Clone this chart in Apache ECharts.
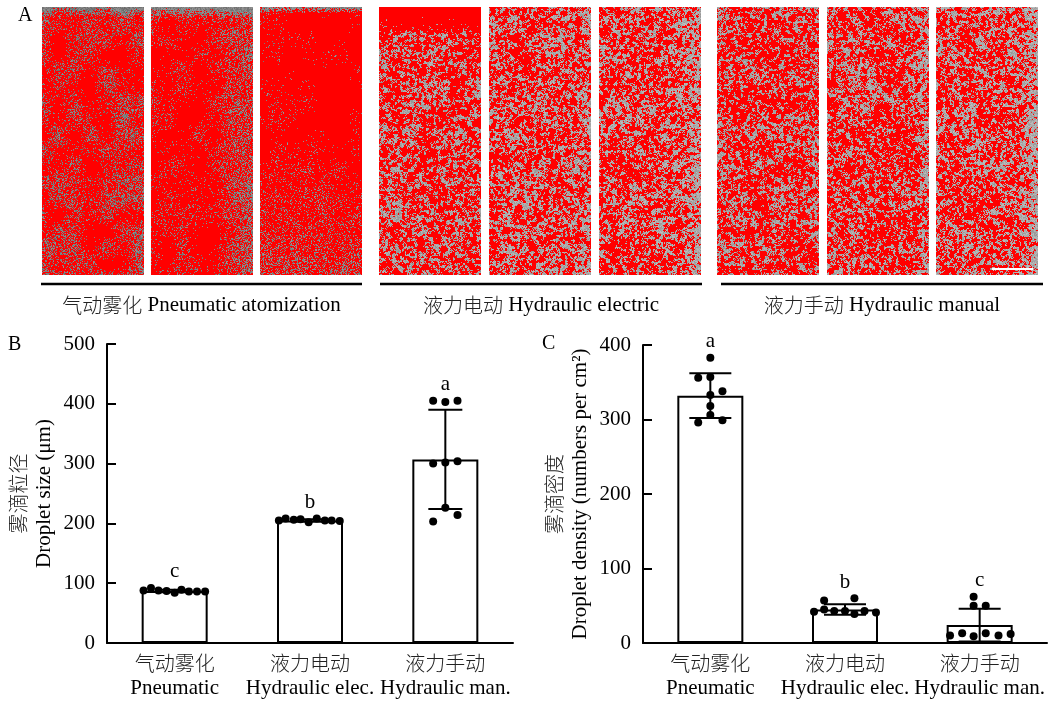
<!DOCTYPE html>
<html>
<head>
    <meta charset="utf-8">
    <title>Droplet size and density</title>
    <script src="https://cdn.jsdelivr.net/npm/echarts@6/dist/echarts.min.js"></script>
    <style>html, body { margin: 0; padding: 0; background: #fff; }</style>
</head>
<body>
    <div id="main" style="width: 1052px;height:704px;"></div>
    <script type="text/javascript">
        var categories = ['气动雾化', '液力电动', '液力手动'];
        var categoriesEn = ['Pneumatic', 'Hydraulic elec.', 'Hydraulic man.'];
        var groupCn = ['气动雾化', '液力电动', '液力手动'];
        var groupEn = ['Pneumatic atomization', 'Hydraulic electric', 'Hydraulic manual'];

        // B - droplet size (um)
        var sizeMean = [87, 205, 307];
        var sizeSd = [2, 2, 83];
        var sizeLetters = ['c', 'b', 'a'];
        var sizePoints = [
            [88, 92, 88, 87, 84, 89, 86, 86, 86],
            [205, 208, 206, 207, 202, 208, 205, 205, 204],
            [405, 403, 405, 300, 302, 304, 226, 203, 214]
        ];
        var sizeJitter = [
            [-0.23, -0.175, -0.12, -0.06, 0, 0.05, 0.105, 0.165, 0.225],
            [-0.23, -0.18, -0.12, -0.07, -0.01, 0.05, 0.11, 0.16, 0.22],
            [-0.09, 0, 0.09, -0.09, 0, 0.09, 0, -0.09, 0.09]
        ];

        // C - droplet density (numbers per cm2)
        var densMean = [332, 45, 24];
        var densSd = [30, 7, 22];
        var densLetters = ['a', 'b', 'c'];
        var densPoints = [
            [383, 356, 357, 338, 333, 318, 306, 296, 299],
            [42, 45, 43, 43, 39, 43, 41, 57, 60],
            [10, 13, 9, 13, 10, 12, 62, 50, 50]
        ];
        var densJitter = [
            [0, -0.09, 0, 0.09, 0, 0, 0, -0.09, 0.09],
            [-0.23, -0.155, -0.08, 0, 0.07, 0.145, 0.23, -0.155, 0.07],
            [-0.22, -0.13, -0.045, 0.045, 0.14, 0.23, -0.045, -0.045, 0.045]
        ];

        var SERIF = '"Liberation Serif", "Times New Roman", serif';
        var CJK = '"Noto Sans CJK SC", sans-serif';

        // ---- panel A: spray card textures (decoration only) ----
        function hash(x, y, s) {
            var h = Math.sin(x * 127.1 + y * 311.7 + s * 74.7) * 43758.5453;
            return h - Math.floor(h);
        }
        function vnoise(x, y, s) {
            var ix = Math.floor(x), iy = Math.floor(y), fx = x - ix, fy = y - iy;
            fx = fx * fx * (3 - 2 * fx); fy = fy * fy * (3 - 2 * fy);
            var a = hash(ix, iy, s), b = hash(ix + 1, iy, s), c = hash(ix, iy + 1, s), d = hash(ix + 1, iy + 1, s);
            return a + (b - a) * fx + (c - a) * fy + (a - b - c + d) * fx * fy;
        }
        function makeTile(w, h, t) {
            var cv = document.createElement('canvas');
            cv.width = w; cv.height = h;
            var ctx = cv.getContext('2d');
            var img = ctx.createImageData(w, h);
            var d = img.data;
            for (var y = 0; y < h; y++) {
                for (var x = 0; x < w; x++) {
                    var big = vnoise(x / 16, y / 16, t.seed + 7);
                    var red;
                    if (t.kind === 'fine') {
                        var p = t.base - t.patch * (big - 0.5) * 2;
                        if (y < t.top) p -= (1 - y / t.top) * 0.85;
                        p -= t.right * Math.max(0, x / w - 0.6) / 0.4;
                        p -= t.bottom * Math.max(0, y / h - 0.5) * 2;
                        red = hash(x, y, t.seed) < p;
                    } else {
                        var n = 0.65 * vnoise(x / 2.4, y / 2.4, t.seed) + 0.35 * hash(x, y, t.seed + 3);
                        var th = t.base + 0.12 * (big - 0.5);
                        if (y < t.top) th += (1 - y / t.top) * 0.6;
                        th -= t.right * Math.max(0, x / w - 0.8) / 0.2;
                        red = n < th;
                    }
                    var k = (y * w + x) * 4;
                    if (red) {
                        d[k] = 255; d[k + 1] = 0; d[k + 2] = 0;
                    } else {
                        var g = Math.round(t.gray + (hash(x, y, t.seed + 11) - 0.5) * 40);
                        d[k] = g; d[k + 1] = g; d[k + 2] = g;
                    }
                    d[k + 3] = 255;
                }
            }
            ctx.putImageData(img, 0, 0);
            return cv;
        }

        var tileX = [42, 151, 260, 379, 489, 599, 717, 827, 936];
        var tileSpec = [
            {kind: 'fine', seed: 1, base: 0.8, patch: 0.3, top: 10, right: 0.15, bottom: 0, gray: 125},
            {kind: 'fine', seed: 2, base: 0.88, patch: 0.15, top: 12, right: 0.4, bottom: 0, gray: 130},
            {kind: 'fine', seed: 3, base: 0.98, patch: 0.1, top: 6, right: 0, bottom: 0.35, gray: 135},
            {kind: 'blob', seed: 4, base: 0.55, top: 28, right: 0, gray: 165},
            {kind: 'blob', seed: 5, base: 0.54, top: 0, right: 0.1, gray: 168},
            {kind: 'blob', seed: 6, base: 0.54, top: 0, right: 0.15, gray: 170},
            {kind: 'blob', seed: 7, base: 0.57, top: 0, right: 0.05, gray: 165},
            {kind: 'blob', seed: 8, base: 0.57, top: 0, right: 0.12, gray: 168},
            {kind: 'blob', seed: 9, base: 0.54, top: 0, right: 0.2, gray: 170}
        ];

        var graphics = [];
        for (var t = 0; t < tileX.length; t++) {
            graphics.push({
                type: 'image', x: tileX[t], y: 7,
                style: {image: makeTile(102, 268, tileSpec[t]), width: 102, height: 268}
            });
        }
        // scale bar on last card
        graphics.push({type: 'line', shape: {x1: 992, y1: 269, x2: 1033, y2: 269}, style: {stroke: '#fff', lineWidth: 2}});

        var groupLine = [[41, 362], [380, 702], [721, 1043]];
        for (var gI = 0; gI < 3; gI++) {
            graphics.push({
                type: 'line',
                shape: {x1: groupLine[gI][0], y1: 284, x2: groupLine[gI][1], y2: 284},
                style: {stroke: '#000', lineWidth: 2.5}
            });
            graphics.push({
                type: 'text',
                x: (groupLine[gI][0] + groupLine[gI][1]) / 2, y: 305,
                style: {
                    text: '{cn|' + groupCn[gI] + '} ' + groupEn[gI],
                    font: '21px ' + SERIF, fill: '#000', align: 'center', verticalAlign: 'middle',
                    rich: {cn: {fontFamily: CJK, fontSize: 20, fill: '#222', fontWeight: 300}}
                }
            });
        }
        graphics.push({type: 'text', x: 18, y: 16, style: {text: 'A', font: '20px ' + SERIF, fill: '#000', verticalAlign: 'middle'}});
        graphics.push({type: 'text', x: 8, y: 345, style: {text: 'B', font: '20px ' + SERIF, fill: '#000', verticalAlign: 'middle'}});
        graphics.push({type: 'text', x: 542, y: 344, style: {text: 'C', font: '20px ' + SERIF, fill: '#000', verticalAlign: 'middle'}});

        // ---- panels B and C ----
        function scatterData(points, jitter) {
            var out = [];
            for (var i = 0; i < points.length; i++) {
                for (var j = 0; j < points[i].length; j++) {
                    out.push([i + jitter[i][j], points[i][j]]);
                }
            }
            return out;
        }

        function errRenderer(means, sds, points, letters, capHalf) {
            return function (params, api) {
                var i = api.value(0);
                var top = api.coord([i, means[i] + sds[i]]);
                var bot = api.coord([i, means[i] - sds[i]]);
                var peak = api.coord([i, Math.max.apply(null, points[i])]);
                var ls = {stroke: '#000', lineWidth: 2};
                return {
                    type: 'group',
                    children: [
                        {type: 'line', shape: {x1: top[0], y1: top[1], x2: bot[0], y2: bot[1]}, style: ls},
                        {type: 'line', shape: {x1: top[0] - capHalf, y1: top[1], x2: top[0] + capHalf, y2: top[1]}, style: ls},
                        {type: 'line', shape: {x1: bot[0] - capHalf, y1: bot[1], x2: bot[0] + capHalf, y2: bot[1]}, style: ls},
                        {
                            type: 'text', x: peak[0], y: peak[1] - 16,
                            style: {text: letters[i], font: '21px ' + SERIF, fill: '#000', align: 'center', verticalAlign: 'middle'}
                        }
                    ]
                };
            };
        }

        function catAxis(grid) {
            return {
                type: 'category', gridIndex: grid, data: categories,
                axisLine: {onZero: false, lineStyle: {color: '#000', width: 2}},
                axisTick: {inside: true, alignWithLabel: true, length: 9, lineStyle: {color: '#000', width: 2}},
                axisLabel: {
                    interval: 0, margin: 8, color: '#000',
                    formatter: function (v, i) { return '{cn|' + v + '}\n{en|' + categoriesEn[i] + '}'; },
                    rich: {
                        cn: {fontFamily: CJK, fontSize: 20, color: '#222', fontWeight: 300, lineHeight: 25},
                        en: {fontFamily: SERIF, fontSize: 21, color: '#000', lineHeight: 25}
                    }
                }
            };
        }
        function valAxis(grid, max, cn, en, gap) {
            return {
                type: 'value', gridIndex: grid, min: 0, max: max, interval: 100,
                splitLine: {show: false},
                axisLine: {show: true, onZero: false, lineStyle: {color: '#000', width: 2}},
                axisTick: {show: true, inside: true, length: 9, lineStyle: {color: '#000', width: 2}},
                axisLabel: {margin: 12, color: '#000', fontFamily: SERIF, fontSize: 21},
                name: '{cn|' + cn + '}\n{en|' + en + '}',
                nameLocation: 'middle', nameRotate: 90, nameGap: gap,
                nameTextStyle: {
                    rich: {
                        cn: {fontFamily: CJK, fontSize: 20, color: '#222', fontWeight: 300, lineHeight: 26},
                        en: {fontFamily: SERIF, fontSize: 21, color: '#000', lineHeight: 26}
                    }
                }
            };
        }

        // transparent fill so the inner category ticks show through, as in the source
        var barStyle = {color: 'rgba(255,255,255,0)', borderColor: '#000', borderWidth: 2};
        var dotStyle = {color: '#000', opacity: 1};

        var myChart = echarts.init(document.getElementById('main'));
        var option = {
            backgroundColor: '#fff',
            animation: false,
            graphic: graphics,
            grid: [
                {left: 107, top: 344, width: 406, height: 299},
                {left: 643, top: 345, width: 404, height: 298}
            ],
            xAxis: [
                catAxis(0),
                {type: 'value', gridIndex: 0, min: -0.5, max: 2.5, show: false},
                catAxis(1),
                {type: 'value', gridIndex: 1, min: -0.5, max: 2.5, show: false}
            ],
            yAxis: [
                valAxis(0, 500, '雾滴粒径', 'Droplet size (μm)', 50),
                valAxis(1, 400, '雾滴密度', 'Droplet density (numbers per cm²)', 50)
            ],
            series: [
                {type: 'bar', xAxisIndex: 0, yAxisIndex: 0, data: sizeMean, barWidth: 66, itemStyle: barStyle},
                {
                    type: 'custom', xAxisIndex: 1, yAxisIndex: 0, z: 3,
                    data: sizeMean.map(function (m, i) { return [i, m]; }),
                    renderItem: errRenderer(sizeMean, sizeSd, sizePoints, sizeLetters, 17)
                },
                {
                    type: 'scatter', xAxisIndex: 1, yAxisIndex: 0, z: 4,
                    data: scatterData(sizePoints, sizeJitter), symbolSize: 8, itemStyle: dotStyle
                },
                {type: 'bar', xAxisIndex: 2, yAxisIndex: 1, data: densMean, barWidth: 66, itemStyle: barStyle},
                {
                    type: 'custom', xAxisIndex: 3, yAxisIndex: 1, z: 3,
                    data: densMean.map(function (m, i) { return [i, m]; }),
                    renderItem: errRenderer(densMean, densSd, densPoints, densLetters, 21)
                },
                {
                    type: 'scatter', xAxisIndex: 3, yAxisIndex: 1, z: 4,
                    data: scatterData(densPoints, densJitter), symbolSize: 8, itemStyle: dotStyle
                }
            ]
        };
        myChart.setOption(option);
    </script>
</body>
</html>
